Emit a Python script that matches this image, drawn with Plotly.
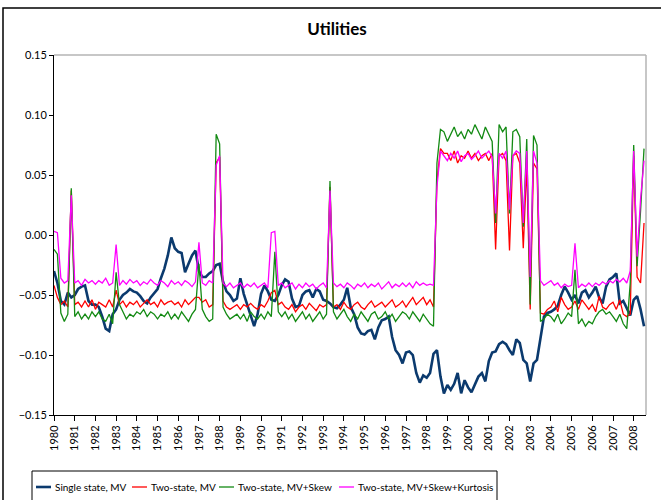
import pandas as pd
import plotly.graph_objects as go

# Bi-monthly observation dates, Jan 1980 .. Jul 2008
dates = pd.date_range("1980-01-01", periods=172, freq="2MS")

single_mv = [
    -0.030, -0.040, -0.055, -0.058, -0.048, -0.052,  # 1980
    -0.050, -0.045, -0.043, -0.042, -0.055, -0.058,  # 1981
    -0.058, -0.060, -0.068, -0.078, -0.080, -0.066,  # 1982
    -0.062, -0.054, -0.050, -0.048, -0.045, -0.047,  # 1983
    -0.048, -0.051, -0.055, -0.057, -0.052, -0.048,  # 1984
    -0.045, -0.036, -0.028, -0.017, -0.002, -0.011,  # 1985
    -0.014, -0.015, -0.031, -0.024, -0.017, -0.013,  # 1986
    -0.030, -0.035, -0.035, -0.032, -0.030, -0.025,  # 1987
    -0.024, -0.039, -0.047, -0.050, -0.055, -0.053,  # 1988
    -0.036, -0.049, -0.058, -0.066, -0.076, -0.066,  # 1989
    -0.049, -0.042, -0.047, -0.054, -0.055, -0.050,  # 1990
    -0.042, -0.037, -0.039, -0.053, -0.060, -0.059,  # 1991
    -0.050, -0.047, -0.046, -0.052, -0.045, -0.047,  # 1992
    -0.054, -0.055, -0.057, -0.060, -0.061, -0.058,  # 1993
    -0.054, -0.044, -0.060, -0.066, -0.077, -0.082,  # 1994
    -0.083, -0.080, -0.079, -0.087, -0.077, -0.071,  # 1995
    -0.070, -0.068, -0.085, -0.096, -0.100, -0.107,  # 1996
    -0.098, -0.097, -0.100, -0.115, -0.123, -0.117,  # 1997
    -0.119, -0.115, -0.099, -0.096, -0.118, -0.132,  # 1998
    -0.125, -0.129, -0.124, -0.115, -0.132, -0.121,  # 1999
    -0.127, -0.131, -0.124, -0.118, -0.115, -0.122,  # 2000
    -0.105, -0.098, -0.097, -0.091, -0.089, -0.091,  # 2001
    -0.096, -0.100, -0.087, -0.090, -0.104, -0.107,  # 2002
    -0.122, -0.107, -0.104, -0.085, -0.068, -0.065,  # 2003
    -0.064, -0.062, -0.059, -0.050, -0.043, -0.048,  # 2004
    -0.054, -0.050, -0.057, -0.048, -0.046, -0.052,  # 2005
    -0.048, -0.043, -0.052, -0.057, -0.043, -0.037,  # 2006
    -0.035, -0.032, -0.057, -0.055, -0.061, -0.067,  # 2007
    -0.054, -0.051, -0.062, -0.076,                  # 2008
]

two_state_mv = [
    -0.042, -0.052, -0.058, -0.055, -0.060, 0.037,   # 1980
    -0.058, -0.056, -0.060, -0.055, -0.060, -0.054,  # 1981
    -0.062, -0.056, -0.058, -0.060, -0.054, -0.060,  # 1982
    -0.046, -0.058, -0.055, -0.060, -0.056, -0.058,  # 1983
    -0.055, -0.060, -0.057, -0.054, -0.058, -0.056,  # 1984
    -0.060, -0.054, -0.058, -0.056, -0.055, -0.058,  # 1985
    -0.056, -0.060, -0.054, -0.058, -0.055, -0.052,  # 1986
    -0.052, -0.056, -0.054, -0.060, -0.058, 0.060,   # 1987
    0.065, -0.055, -0.060, -0.062, -0.060, -0.058,   # 1988
    -0.062, -0.058, -0.060, -0.057, -0.060, -0.062,  # 1989
    -0.058, -0.060, -0.055, -0.048, -0.046, -0.058,  # 1990
    -0.056, -0.060, -0.062, -0.058, -0.064, -0.060,  # 1991
    -0.058, -0.062, -0.057, -0.060, -0.063, -0.058,  # 1992
    -0.060, -0.058, 0.040, -0.060, -0.058, -0.062,   # 1993
    -0.056, -0.060, -0.062, -0.058, -0.056, -0.060,  # 1994
    -0.062, -0.058, -0.055, -0.060, -0.058, -0.056,  # 1995
    -0.060, -0.057, -0.054, -0.060, -0.058, -0.055,  # 1996
    -0.060, -0.056, -0.052, -0.058, -0.055, -0.052,  # 1997
    -0.058, -0.054, -0.060, 0.045, 0.072, 0.068,     # 1998
    0.068, 0.062, 0.070, 0.060, 0.066, 0.064,        # 1999
    0.070, 0.064, 0.068, 0.062, 0.066, 0.068,        # 2000
    0.062, 0.068, -0.012, 0.066, 0.068, 0.062,       # 2001
    -0.013, 0.066, 0.068, 0.060, -0.011, 0.058,      # 2002
    -0.062, 0.060, 0.055, -0.065, -0.066, -0.062,    # 2003
    -0.060, -0.055, -0.064, -0.052, -0.058, -0.062,  # 2004
    -0.060, -0.055, -0.062, -0.054, -0.058, -0.062,  # 2005
    -0.058, -0.064, -0.051, -0.060, -0.062, -0.058,  # 2006
    -0.056, -0.062, -0.054, -0.066, -0.068, -0.066,  # 2007
    0.066, -0.035, -0.040, 0.010,                    # 2008
]

two_state_skew = [
    -0.012, -0.016, -0.065, -0.072, -0.066, 0.039,   # 1980
    -0.068, -0.064, -0.070, -0.066, -0.070, -0.064,  # 1981
    -0.068, -0.064, -0.070, -0.072, -0.066, -0.074,  # 1982
    -0.031, -0.058, -0.064, -0.070, -0.066, -0.068,  # 1983
    -0.064, -0.066, -0.062, -0.068, -0.064, -0.066,  # 1984
    -0.070, -0.066, -0.068, -0.064, -0.070, -0.066,  # 1985
    -0.070, -0.064, -0.068, -0.072, -0.066, -0.062,  # 1986
    -0.024, -0.062, -0.068, -0.072, -0.070, 0.084,   # 1987
    0.076, -0.060, -0.066, -0.070, -0.068, -0.066,   # 1988
    -0.070, -0.066, -0.072, -0.064, -0.068, -0.070,  # 1989
    -0.066, -0.070, -0.064, -0.068, -0.014, -0.064,  # 1990
    -0.068, -0.064, -0.070, -0.066, -0.072, -0.068,  # 1991
    -0.064, -0.070, -0.066, -0.072, -0.068, -0.064,  # 1992
    -0.070, -0.066, 0.045, -0.064, -0.070, -0.066,   # 1993
    -0.062, -0.068, -0.072, -0.066, -0.070, -0.064,  # 1994
    -0.068, -0.072, -0.066, -0.064, -0.070, -0.068,  # 1995
    -0.064, -0.070, -0.066, -0.072, -0.068, -0.064,  # 1996
    -0.066, -0.070, -0.064, -0.068, -0.072, -0.066,  # 1997
    -0.070, -0.074, -0.076, 0.060, 0.088, 0.086,     # 1998
    0.078, 0.084, 0.090, 0.082, 0.086, 0.080,        # 1999
    0.088, 0.084, 0.092, 0.086, 0.080, 0.090,        # 2000
    0.084, 0.078, 0.010, 0.092, 0.086, 0.090,        # 2001
    0.018, 0.086, 0.088, 0.082, 0.007, 0.080,        # 2002
    -0.058, 0.083, 0.075, -0.072, -0.070, -0.066,    # 2003
    -0.068, -0.072, -0.066, -0.074, -0.070, -0.065,  # 2004
    -0.068, -0.029, -0.074, -0.070, -0.076, -0.072,  # 2005
    -0.074, -0.068, -0.064, -0.062, -0.066, -0.064,  # 2006
    -0.068, -0.072, -0.066, -0.074, -0.078, -0.040,  # 2007
    0.075, -0.026, 0.020, 0.072,                     # 2008
]

two_state_kurt = [
    0.003, 0.002, -0.036, -0.040, -0.038, 0.033,     # 1980
    -0.040, -0.038, -0.042, -0.037, -0.040, -0.038,  # 1981
    -0.041, -0.038, -0.040, -0.036, -0.042, -0.040,  # 1982
    -0.008, -0.042, -0.038, -0.041, -0.037, -0.040,  # 1983
    -0.038, -0.042, -0.039, -0.041, -0.037, -0.040,  # 1984
    -0.042, -0.038, -0.040, -0.043, -0.038, -0.041,  # 1985
    -0.039, -0.042, -0.038, -0.040, -0.043, -0.039,  # 1986
    -0.006, -0.040, -0.042, -0.038, -0.040, 0.058,   # 1987
    0.066, -0.040, -0.043, -0.040, -0.044, -0.042,   # 1988
    -0.040, -0.044, -0.041, -0.043, -0.040, -0.044,  # 1989
    -0.042, -0.040, -0.044, 0.002, 0.003, -0.042,    # 1990
    -0.040, -0.044, -0.042, -0.040, -0.045, -0.041,  # 1991
    -0.044, -0.040, -0.043, -0.041, -0.045, -0.042,  # 1992
    -0.040, -0.044, 0.037, -0.040, -0.043, -0.041,   # 1993
    -0.044, -0.040, -0.042, -0.045, -0.041, -0.043,  # 1994
    -0.040, -0.044, -0.041, -0.043, -0.040, -0.045,  # 1995
    -0.042, -0.039, -0.044, -0.041, -0.043, -0.040,  # 1996
    -0.043, -0.040, -0.044, -0.039, -0.042, -0.040,  # 1997
    -0.042, -0.041, -0.042, 0.040, 0.070, 0.066,     # 1998
    0.062, 0.068, 0.064, 0.070, 0.061, 0.066,        # 1999
    0.068, 0.063, 0.066, 0.070, 0.064, 0.067,        # 2000
    0.070, 0.065, 0.018, 0.068, 0.064, 0.070,        # 2001
    0.021, 0.066, 0.070, 0.068, 0.010, 0.070,        # 2002
    -0.035, 0.070, 0.060, -0.038, -0.042, -0.040,    # 2003
    -0.038, -0.042, -0.040, -0.044, -0.041, -0.043,  # 2004
    -0.042, -0.007, -0.044, -0.041, -0.043, -0.040,  # 2005
    -0.043, -0.040, -0.042, -0.039, -0.041, -0.038,  # 2006
    -0.040, -0.037, -0.039, -0.036, -0.040, -0.030,  # 2007
    0.070, -0.018, 0.030, 0.062,                     # 2008
]

series_names = ["Single state, MV", "Two-state, MV", "Two-state, MV+Skew",
                "Two-state, MV+Skew+Kurtosis"]
series_values = [single_mv, two_state_mv, two_state_skew, two_state_kurt]
series_colors = ["#0B3A6E", "#FF0000", "#138A13", "#FF00FF"]
series_widths = [2.6, 1.3, 1.3, 1.3]

year_ticks = list(range(1980, 2009))
year_labels = [str(y) for y in year_ticks]
y_ticks = [-0.15, -0.10, -0.05, 0.00, 0.05, 0.10, 0.15]

FONT = "Lato, sans-serif"

# pixel geometry of the plotting area, used to place frame and legend
PL, PR, PT, PB = 54, 646, 55, 415
PW, PH = PR - PL, PB - PT


def px_x(p):
    return (p - PL) / PW


def px_y(p):
    return (PB - p) / PH


fig = go.Figure()
for name, vals, col, w in zip(series_names, series_values, series_colors, series_widths):
    fig.add_trace(go.Scatter(x=dates, y=vals, mode="lines", name=name,
                             line=dict(color=col, width=w), showlegend=False))

fig.update_layout(
    width=661, height=500,
    margin=dict(l=PL, r=661 - PR, t=PT, b=500 - PB),
    paper_bgcolor="white", plot_bgcolor="white",
    font=dict(family=FONT, size=11, color="black"),
    title=dict(text="<b>Utilities</b>", x=337 / 661, xanchor="center",
               y=1 - 29 / 500, yanchor="middle",
               font=dict(family=FONT, size=17, color="black")),
    showlegend=False,
)

fig.update_xaxes(
    range=[pd.Timestamp("1980-01-01"), pd.Timestamp("2008-08-05")],
    tickvals=[pd.Timestamp(f"{y}-01-01") for y in year_ticks],
    ticktext=year_labels, tickangle=-90,
    ticks="outside", ticklen=5, tickcolor="black",
    showline=True, linecolor="black", linewidth=1,
    showgrid=False, zeroline=False,
    tickfont=dict(family=FONT, size=11),
)
fig.update_yaxes(
    range=[-0.15, 0.15], tickvals=y_ticks, tickformat=".2f",
    ticks="outside", ticklen=4, tickcolor="black",
    showline=True, linecolor="black", linewidth=1,
    showgrid=False, zeroline=False,
    tickfont=dict(family=FONT, size=11),
)

# Plot-area frame (top and right edges in grey)
fig.add_shape(type="line", xref="paper", yref="paper", x0=0, x1=1, y0=1, y1=1,
              line=dict(color="#B4B4B4", width=1.5), layer="below")
fig.add_shape(type="line", xref="paper", yref="paper", x0=1, x1=1, y0=0, y1=1,
              line=dict(color="#B4B4B4", width=1.5), layer="below")

# Chart-area border
fig.add_shape(type="rect", xref="paper", yref="paper",
              x0=px_x(3), x1=px_x(670), y0=px_y(510), y1=px_y(8),
              line=dict(color="black", width=1.5), fillcolor="rgba(0,0,0,0)")

# Legend: framed box with a short line sample and a label per series
fig.add_shape(type="rect", xref="paper", yref="paper",
              x0=px_x(32), x1=px_x(497), y0=px_y(510), y1=px_y(471),
              line=dict(color="black", width=1), fillcolor="rgba(0,0,0,0)")
legend_line_x = [36, 132, 219, 339]
legend_text_x = [53, 149, 236, 356]
legend_y = 487
for name, col, w, lx, tx in zip(series_names, series_colors, series_widths,
                                legend_line_x, legend_text_x):
    fig.add_shape(type="line", xref="paper", yref="paper",
                  x0=px_x(lx), x1=px_x(lx + 15), y0=px_y(legend_y), y1=px_y(legend_y),
                  line=dict(color=col, width=w))
    fig.add_annotation(xref="paper", yref="paper", x=px_x(tx), y=px_y(legend_y),
                       text=name, showarrow=False, xanchor="left", yanchor="middle",
                       font=dict(family=FONT, size=10, color="black"))

fig.write_html("out.html")
